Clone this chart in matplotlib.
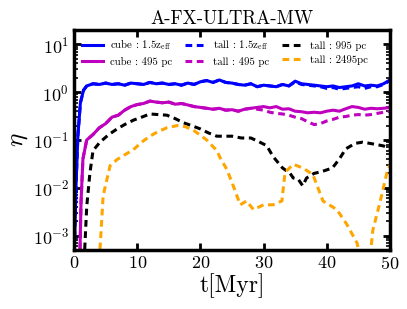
import matplotlib
matplotlib.use("Agg")
import matplotlib.pyplot as plt
import numpy as np

plt.rcParams["font.family"] = ["cmr10", "DejaVu Serif"]
plt.rcParams["mathtext.fontset"] = "cm"
plt.rcParams["axes.formatter.use_mathtext"] = True

# --- data ---
t_cube = [0, 0.3, 0.6, 1.0, 1.5, 2, 3, 4, 5, 6, 7, 8, 9, 10, 11, 12, 13, 14, 15, 16,
          17, 18, 19, 20, 21, 22, 23, 24, 25, 26, 27, 28, 29, 30, 31, 32, 33, 34, 35,
          36, 37, 38, 39, 40, 41, 42, 43, 44, 45, 46, 47, 48, 49, 50]
cube_zeff = [3e-4, 0.01, 0.12, 0.6, 1.1, 1.35, 1.5, 1.45, 1.55, 1.45, 1.5, 1.4, 1.55,
             1.5, 1.45, 1.6, 1.5, 1.55, 1.45, 1.5, 1.4, 1.55, 1.45, 1.65, 1.75, 1.6,
             1.8, 1.6, 1.55, 1.45, 1.4, 1.5, 1.3, 1.4, 1.35, 1.3, 1.45, 1.35, 1.7, 1.5,
             1.45, 1.4, 1.35, 1.3, 1.35, 1.25, 1.3, 1.35, 1.5, 1.35, 1.4, 1.35, 1.5, 1.8]
tall_zeff = [3e-4, 0.01, 0.12, 0.6, 1.1, 1.35, 1.5, 1.45, 1.55, 1.45, 1.5, 1.4, 1.55,
             1.5, 1.45, 1.6, 1.5, 1.55, 1.45, 1.5, 1.4, 1.55, 1.45, 1.65, 1.75, 1.6,
             1.8, 1.6, 1.55, 1.45, 1.4, 1.5, 1.3, 1.4, 1.35, 1.3, 1.45, 1.35, 1.65, 1.45,
             1.4, 1.35, 1.3, 1.2, 1.25, 1.15, 1.2, 1.25, 1.3, 1.2, 1.3, 1.3, 1.45, 1.75]

t_mag = [0.9, 1.1, 1.4, 2, 3, 4, 5, 6, 7, 8, 9, 10, 11, 12, 13, 14, 15, 16, 17, 18, 19,
         20, 21, 22, 23, 24, 25, 26, 27, 28, 29, 30, 31, 32, 33, 34, 35, 36, 37, 38,
         39, 40, 41, 42, 43, 44, 45, 46, 47, 48, 49, 50]
cube_495 = [3e-4, 0.005, 0.04, 0.1, 0.13, 0.18, 0.22, 0.3, 0.33, 0.42, 0.5, 0.55, 0.58,
            0.65, 0.62, 0.6, 0.62, 0.56, 0.58, 0.54, 0.5, 0.48, 0.46, 0.44, 0.46, 0.42,
            0.43, 0.4, 0.44, 0.46, 0.48, 0.5, 0.47, 0.5, 0.44, 0.45, 0.4, 0.39, 0.37,
            0.38, 0.37, 0.4, 0.42, 0.4, 0.45, 0.5, 0.48, 0.44, 0.46, 0.45, 0.46, 0.48]
tall_495 = [3e-4, 0.005, 0.04, 0.1, 0.13, 0.18, 0.22, 0.3, 0.33, 0.42, 0.5, 0.55, 0.58,
            0.65, 0.62, 0.6, 0.62, 0.56, 0.58, 0.54, 0.5, 0.48, 0.46, 0.44, 0.46, 0.42,
            0.43, 0.4, 0.44, 0.46, 0.44, 0.42, 0.38, 0.36, 0.35, 0.33, 0.3, 0.28, 0.24,
            0.21, 0.22, 0.25, 0.27, 0.3, 0.31, 0.33, 0.34, 0.33, 0.34, 0.36, 0.38, 0.4]

t_995 = [1.6, 2.0, 2.5, 3.0, 4.1, 5.5, 6.8, 8, 9.4, 10.7, 12, 13.3, 14.7, 16, 17.3,
         18.6, 20, 21.3, 22.6, 24, 25, 26.5, 28, 29.4, 30.5, 31.5, 33, 34.2, 34.7,
         35.5, 36.2, 36.8, 38.0, 39.3, 40.9, 42, 43, 44.5, 45.7, 46.8, 47.9, 49, 50]
tall_995 = [3e-4, 0.004, 0.02, 0.06, 0.09, 0.13, 0.17, 0.21, 0.26, 0.3, 0.35, 0.34,
            0.33, 0.28, 0.23, 0.2, 0.17, 0.14, 0.12, 0.12, 0.12, 0.11, 0.11, 0.09,
            0.076, 0.045, 0.026, 0.02, 0.016, 0.015, 0.011, 0.016, 0.02, 0.022,
            0.026, 0.04, 0.065, 0.085, 0.09, 0.085, 0.08, 0.075, 0.065]

t_2495 = [4.0, 4.6, 5.7, 6.8, 7.8, 9.4, 10.7, 12, 13.3, 14.7, 16.3, 17.6, 18.9, 21,
          22.6, 23.1, 24.2, 25.2, 26.3, 27.3, 28.4, 30, 31.5, 32.9, 33.4, 34.7, 36.2,
          37.8, 39.4, 41.6, 43.2, 44.8, 45.4, 46.8, 47.3, 48.4, 49.5, 50]
tall_2495 = [3e-4, 0.0068, 0.029, 0.039, 0.047, 0.063, 0.09, 0.12, 0.15, 0.18, 0.2,
             0.19, 0.16, 0.1, 0.06, 0.043, 0.024, 0.011, 0.0044, 0.0053, 0.0035,
             0.0044, 0.0044, 0.0053, 0.021, 0.031, 0.026, 0.019, 0.0053, 0.0035,
             0.0017, 0.0007, 3e-4, 3e-4, 0.0013, 0.0048, 0.02, 0.03]

fig = plt.figure(figsize=(4.07, 3.09), dpi=100)
ax = fig.add_axes([0.182, 0.191, 0.776, 0.712])

dash = (2.2, 1.5)
ax.plot(t_cube, cube_zeff, "-", color="blue", lw=2.2, label=r"cube : 1.5z$_{\rm eff}$")
ax.plot(t_mag, cube_495, "-", color="m", lw=2.2, label="cube : 495 pc")
ax.plot(t_cube, tall_zeff, "--", dashes=dash, color="blue", lw=2.2,
        label=r"tall : 1.5z$_{\rm eff}$")
ax.plot(t_mag, tall_495, "--", dashes=dash, color="m", lw=2.2, label="tall : 495 pc")
ax.plot(t_995, tall_995, "--", dashes=dash, color="black", lw=2.2, label="tall : 995 pc")
ax.plot(t_2495, tall_2495, "--", dashes=dash, color="orange", lw=2.2,
        label="tall : 2495pc")

ax.set_yscale("log")
ax.set_xlim(0, 50)
ax.set_ylim(5e-4, 20)
ax.set_xticks([0, 10, 20, 30, 40, 50])

ax.tick_params(which="both", direction="in", top=True, right=True, labelsize=13)
ax.tick_params(which="major", length=5, width=2)
ax.tick_params(which="minor", length=3, width=1.2)
for sp in ax.spines.values():
    sp.set_linewidth(2.5)

ax.set_xlabel("t[Myr]", fontsize=17, labelpad=1)
ax.set_ylabel(r"$\eta$", fontsize=18, labelpad=2)
ax.set_title("A-FX-ULTRA-MW", fontsize=13.5, pad=4)

ax.legend(ncol=3, loc="upper left", frameon=False, fontsize=7.8,
          handlelength=2.0, columnspacing=1.2, handletextpad=0.6,
          borderaxespad=0.3, labelspacing=0.4)

fig.savefig("out.png", dpi=100)
